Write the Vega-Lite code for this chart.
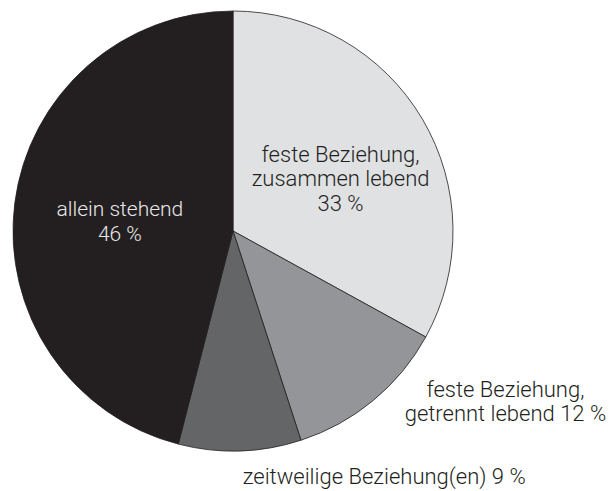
{
  "$schema": "https://vega.github.io/schema/vega-lite/v6.json",
  "width": 466,
  "height": 462,
  "autosize": "none",
  "padding": {"left": 0, "top": 0, "right": 146, "bottom": 29},
  "background": "#ffffff",
  "config": {"view": {"stroke": null}},
  "data": {
    "values": [
      {"cat": "feste Beziehung, zusammen lebend", "value": 33, "order": 1, "label": "feste Beziehung,\nzusammen lebend\n33 %"},
      {"cat": "feste Beziehung, getrennt lebend", "value": 12, "order": 2, "label": "feste Beziehung,\ngetrennt lebend 12 %"},
      {"cat": "zeitweilige Beziehung(en)", "value": 9, "order": 3, "label": "zeitweilige Beziehung(en) 9 %"},
      {"cat": "allein stehend", "value": 46, "order": 4, "label": "allein stehend\n46 %"}
    ]
  },
  "encoding": {
    "theta": {"field": "value", "type": "quantitative", "stack": true},
    "order": {"field": "order", "type": "quantitative"}
  },
  "layer": [
    {
      "mark": {"type": "arc", "outerRadius": 220, "stroke": "#231f20", "strokeWidth": 0.8},
      "encoding": {
        "color": {
          "field": "cat",
          "type": "nominal",
          "scale": {
            "domain": ["feste Beziehung, zusammen lebend", "feste Beziehung, getrennt lebend", "zeitweilige Beziehung(en)", "allein stehend"],
            "range": ["#e0e1e3", "#939598", "#646567", "#231f20"]
          },
          "legend": null
        }
      }
    },
    {
      "mark": {"type": "text", "radius": 118, "dx": 6, "dy": -16, "font": "Roboto", "fontWeight": 300, "fontSize": 22, "lineHeight": 24.5, "lineBreak": "\n", "align": "center", "baseline": "middle", "color": "#231f20"},
      "encoding": {"text": {"condition": {"test": "datum.order == 1", "field": "label"}, "value": ""}}
    },
    {
      "mark": {"type": "text", "radius": 305, "dx": 78, "dy": -76, "font": "Roboto", "fontWeight": 300, "fontSize": 22, "lineHeight": 24, "lineBreak": "\n", "align": "center", "baseline": "middle", "color": "#231f20"},
      "encoding": {"text": {"condition": {"test": "datum.order == 2", "field": "label"}, "value": ""}}
    },
    {
      "mark": {"type": "text", "radius": 247, "dx": 2, "dy": -1, "font": "Roboto", "fontWeight": 300, "fontSize": 22, "lineHeight": 24, "lineBreak": "\n", "align": "left", "baseline": "middle", "color": "#231f20"},
      "encoding": {"text": {"condition": {"test": "datum.order == 3", "field": "label"}, "value": ""}}
    },
    {
      "mark": {"type": "text", "radius": 114, "dx": 0, "dy": -7, "font": "Roboto", "fontWeight": 300, "fontSize": 21, "lineHeight": 25, "lineBreak": "\n", "align": "center", "baseline": "middle", "color": "#e8e8e8"},
      "encoding": {"text": {"condition": {"test": "datum.order == 4", "field": "label"}, "value": ""}}
    }
  ]
}
